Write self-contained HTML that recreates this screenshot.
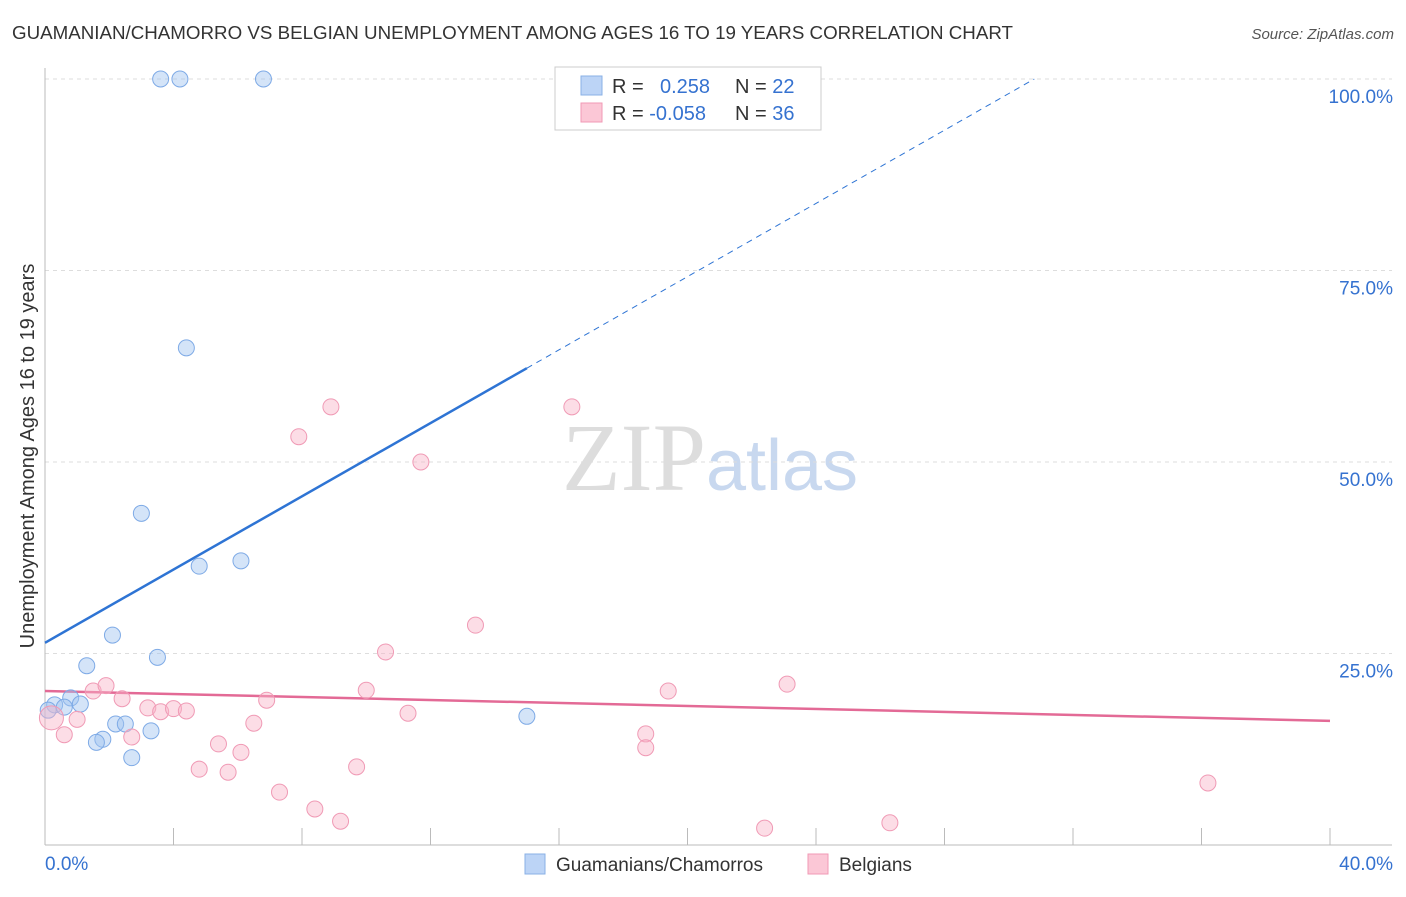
<!DOCTYPE html>
<html><head><meta charset="utf-8"><style>
body{margin:0;background:#fff;font-family:"Liberation Sans",sans-serif}
svg text{font-family:"Liberation Sans",sans-serif}
</style></head><body>
<svg id="chart" width="1406" height="892" xmlns="http://www.w3.org/2000/svg">
<text x="12" y="39" font-size="18" fill="#333" textLength="1001" lengthAdjust="spacingAndGlyphs">GUAMANIAN/CHAMORRO VS BELGIAN UNEMPLOYMENT AMONG AGES 16 TO 19 YEARS CORRELATION CHART</text>
<text x="1394" y="39" font-size="15" fill="#555" text-anchor="end" font-style="italic">Source: ZipAtlas.com</text>
<text x="710" y="490" font-size="96" text-anchor="middle"><tspan fill="#ddd" font-family="Liberation Serif">ZIP</tspan><tspan fill="#c8d8ef" font-size="72">atlas</tspan></text>
<g id="grid"></g><g id="axes"></g><g id="lines"></g><g id="pts"></g>
<text transform="translate(34,456) rotate(-90)" font-size="20" fill="#333" text-anchor="middle">Unemployment Among Ages 16 to 19 years</text>
<g>
<rect x="555" y="67" width="266" height="63" fill="#fff" stroke="#ccc"/>
<rect x="581" y="76" width="21" height="19" fill="#bcd4f6" stroke="#8ab0e6"/>
<rect x="581" y="103" width="21" height="19" fill="#fbc7d6" stroke="#f09ab5"/>
<text x="612" y="93" font-size="20" fill="#333">R = <tspan fill="#3572d0" x="660">0.258</tspan><tspan fill="#333" x="735">N = </tspan><tspan fill="#3572d0">22</tspan></text>
<text x="612" y="120" font-size="20" fill="#333">R = <tspan fill="#3572d0">-0.058</tspan><tspan fill="#333" x="735">N = </tspan><tspan fill="#3572d0">36</tspan></text>
</g>
<g>
<rect x="525" y="854" width="20" height="20" fill="#bcd4f6" stroke="#8ab0e6"/>
<text x="556" y="871" font-size="19" fill="#333">Guamanians/Chamorros</text>
<rect x="808" y="854" width="20" height="20" fill="#fbc7d6" stroke="#f09ab5"/>
<text x="839" y="871" font-size="19" fill="#333">Belgians</text>
</g>
</svg>
<script>
const xTicks=[0,4,8,12,16,20,24,28,32,36,40];
const yTicks=[25,50,75,100];
const yTickLabels=["25.0%","50.0%","75.0%","100.0%"];
const blueX=[3.6,4.2,6.8,4.4,3.0,6.1,4.8,2.1,3.5,1.3,0.8,1.1,0.3,0.6,0.1,2.2,2.5,3.3,1.8,1.6,2.7,15.0];
const blueY=[100,100,100,64.9,43.3,37.1,36.4,27.4,24.5,23.4,19.2,18.4,18.3,18.0,17.6,15.8,15.8,14.9,13.8,13.4,11.4,16.8];
const pinkX=[8.9,16.4,7.9,11.7,13.4,10.6,23.1,19.4,10.0,1.5,1.9,2.4,6.9,3.2,3.6,4.0,4.4,11.3,1.0,6.5,0.2,0.6,2.7,18.7,18.7,5.4,6.1,4.8,5.7,9.7,7.3,8.4,9.2,22.4,26.3,36.2];
const pinkY=[57.2,57.2,53.3,50.0,28.7,25.2,21.0,20.1,20.2,20.1,20.8,19.1,18.9,17.9,17.4,17.8,17.5,17.2,16.4,15.9,16.6,14.4,14.1,14.5,12.7,13.2,12.1,9.9,9.5,10.2,6.9,4.7,3.1,2.2,2.9,8.1];
const blueTrend=[26.4,2.39];
const pinkTrend=[20.1,-0.0975];
const X=v=>45+v*32.125, Y=v=>845-v*7.66;
const NS="http://www.w3.org/2000/svg";
function mk(p,t,a){const e=document.createElementNS(NS,t);for(const k in a)e.setAttribute(k,a[k]);document.getElementById(p).appendChild(e);return e;}
yTicks.forEach((v,i)=>{
 const l=mk('grid','line',{x1:45,x2:1392,y1:Y(v),y2:Y(v),stroke:'#ddd','stroke-dasharray':'4,4'});
 
 
 const t=mk('grid','text',{x:1393,y:Y(v)+24,'text-anchor':'end','font-size':19,fill:'#3572d0'});t.textContent=yTickLabels[i];
 
 
});
const ax=mk('axes','line',{x1:45,x2:45,y1:68,y2:845,stroke:'#bbb'});


const bx=mk('axes','line',{x1:45,x2:1392,y1:845,y2:845,stroke:'#bbb'});


xTicks.forEach(v=>{const t=mk('axes','line',{x1:X(v),x2:X(v),y1:828,y2:845,stroke:'#bbb'});
 
 });
[[0,"0.0%","start",45],[40,"40.0%","end",1393]].forEach(d=>{const t=mk('axes','text',{x:d[3],y:870,'text-anchor':d[2],'font-size':19,fill:'#3572d0'});t.textContent=d[1];
 
 });
const bEnd=15.0, bTop=(100-blueTrend[0])/blueTrend[1];
let l1=mk('lines','line',{x1:X(0),y1:Y(blueTrend[0]),x2:X(bEnd),y2:Y(blueTrend[0]+blueTrend[1]*bEnd),stroke:'#2e74d4','stroke-width':2.5});


let l2=mk('lines','line',{x1:X(bEnd),y1:Y(blueTrend[0]+blueTrend[1]*bEnd),x2:X(bTop),y2:Y(100),stroke:'#2e74d4','stroke-width':1,'stroke-dasharray':'6,5'});


let l3=mk('lines','line',{x1:X(0),y1:Y(pinkTrend[0]),x2:X(40),y2:Y(pinkTrend[0]+pinkTrend[1]*40),stroke:'#e36a96','stroke-width':2.5});


blueX.forEach((v,i)=>{const c=mk('pts','circle',{cx:X(v),cy:Y(blueY[i]),r:8,fill:'rgba(160,195,240,0.45)',stroke:'#7eaae6','stroke-width':1});
 
 });
pinkX.forEach((v,i)=>{const c=mk('pts','circle',{cx:X(v),cy:Y(pinkY[i]),r:(i==20?12:8),fill:'rgba(248,180,200,0.45)',stroke:'#f09ab5','stroke-width':1});
 
 });
</script>
</body></html>
